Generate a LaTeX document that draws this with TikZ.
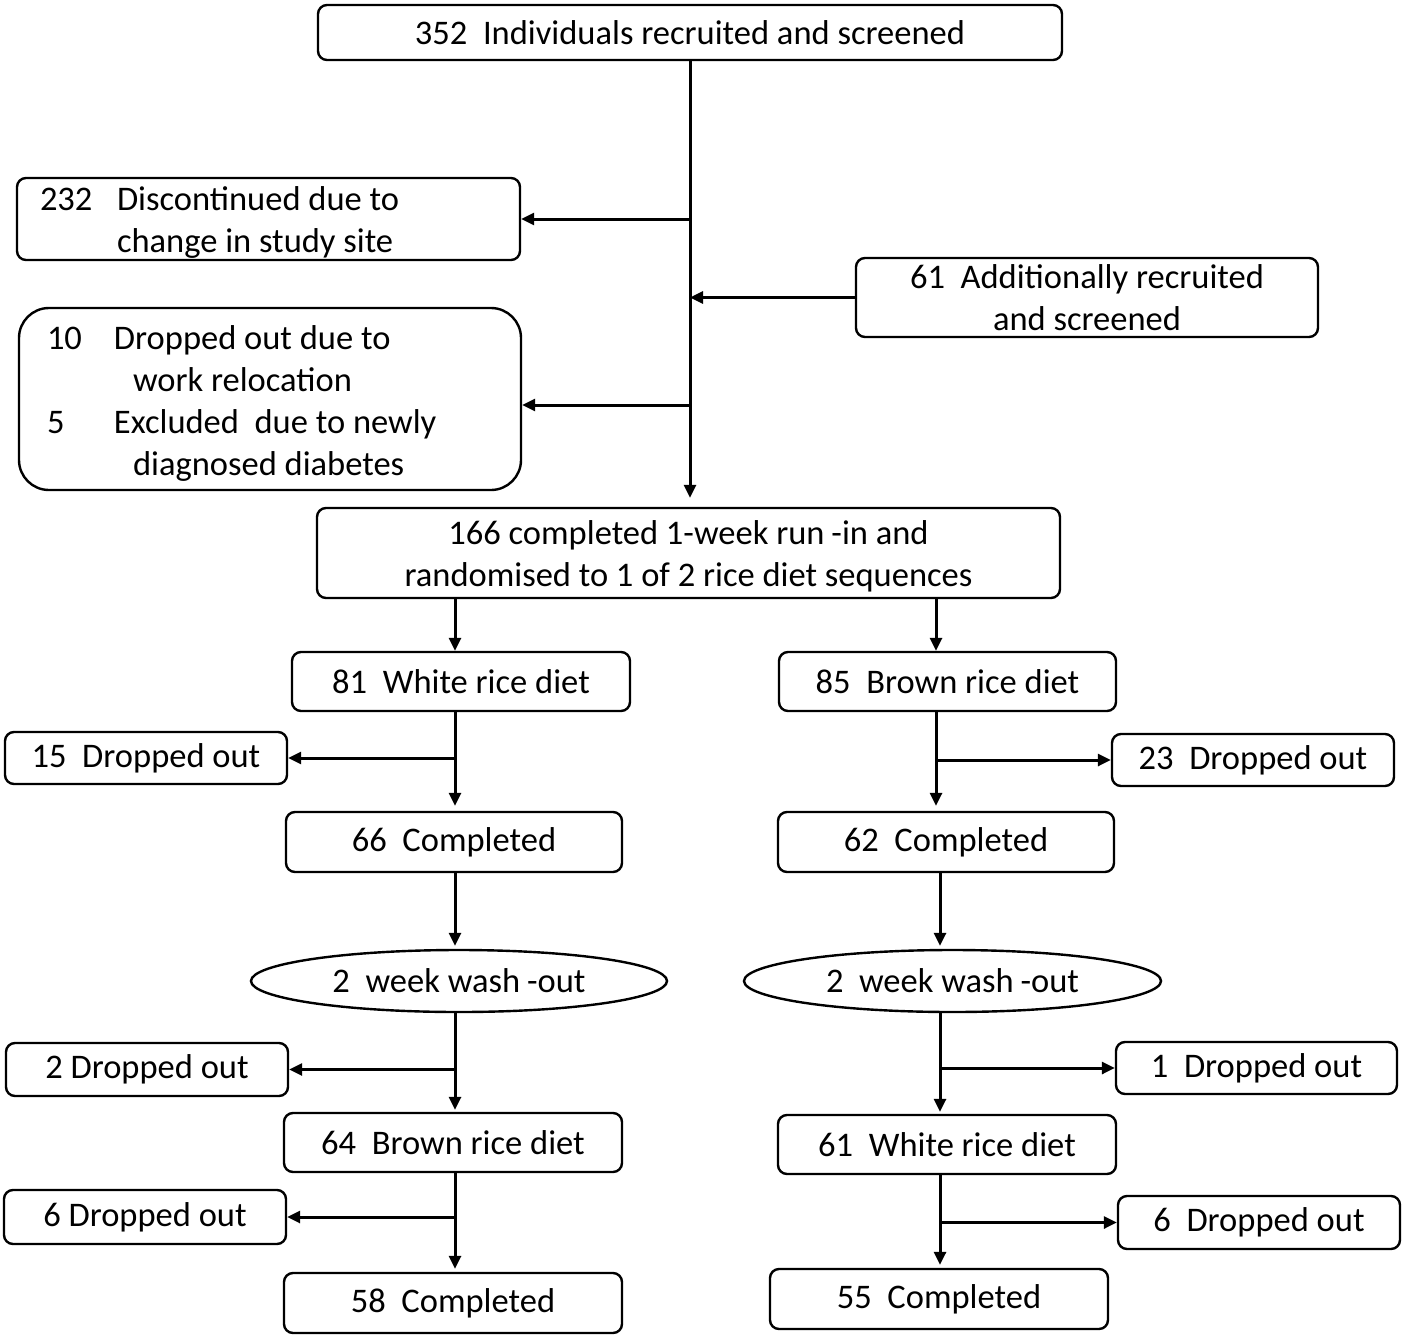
\documentclass[tikz,border=0pt]{standalone}
\usepackage{fontspec}
\setmainfont{Carlito}
\usetikzlibrary{shapes.geometric,arrows.meta,calc}
\begin{document}
\begin{tikzpicture}[x=1pt,y=-1pt,
  box/.style={draw, line width=2.4pt, rounded corners=9pt, inner sep=0pt, align=center},
  oval/.style={draw, ellipse, line width=2.4pt, inner sep=0pt},
  arr/.style={line width=3pt, -{Triangle[length=13pt,width=12pt]}},
  font=\fontsize{34.5}{42}\selectfont]
\useasboundingbox (0,0) rectangle (1405,1338);

\node[box, minimum width=744, minimum height=55] (top) at (690,32.5) {352\ \ Individuals recruited and screened};
\node[box, minimum width=503, minimum height=82, text width=457, inner xsep=23pt, align=flush left] (d232) at (268.5,219)
  {\rule{0pt}{31pt}\makebox[77pt][l]{232}Discontinued due to\\\hspace*{77pt}change in study site};
\node[box, minimum width=462, minimum height=79] (add) at (1087,297.5) {61\ \ Additionally recruited\\and screened};
\node[box, rounded corners=30pt, minimum width=502, minimum height=182, text width=446, inner xsep=28pt, align=flush left] (ex) at (270,399)
  {\rule{0pt}{32pt}\makebox[67pt][l]{10}Dropped out due to\\\hspace*{86pt}work relocation\\\makebox[67pt][l]{5}Excluded\ \ due to newly\\\hspace*{86pt}diagnosed diabetes};
\node[box, minimum width=743, minimum height=90] (r166) at (688.5,553) {\rule{0pt}{31pt}166 completed 1-week run\hspace{0.2em}-in and\\randomised to 1 of 2 rice diet sequences};

\node[box, minimum width=338, minimum height=59] (w81) at (461,681.5) {81\ \ White rice diet};
\node[box, minimum width=337, minimum height=59] (b85) at (947.5,681.5) {85\ \ Brown rice diet};
\node[box, minimum width=282, minimum height=52] (d15) at (146,758) {15\ \ Dropped out};
\node[box, minimum width=282, minimum height=52] (d23) at (1253,760) {23\ \ Dropped out};
\node[box, minimum width=336, minimum height=60] (c66) at (454,842) {66\ \ Completed};
\node[box, minimum width=336, minimum height=60] (c62) at (946,842) {62\ \ Completed};
\node[oval, minimum width=416, minimum height=62] (wL) at (459,981) {2\ \ week wash\hspace{0.2em}-out};
\node[oval, minimum width=417, minimum height=62] (wR) at (952.5,981) {2\ \ week wash\hspace{0.2em}-out};
\node[box, minimum width=282, minimum height=53] (d2) at (147,1069.5) {2 Dropped out};
\node[box, minimum width=281, minimum height=52] (d1) at (1256.5,1068) {1\ \ Dropped out};
\node[box, minimum width=338, minimum height=59] (b64) at (453,1142.5) {64\ \ Brown rice diet};
\node[box, minimum width=338, minimum height=59] (w61) at (947,1144.5) {61\ \ White rice diet};
\node[box, minimum width=282, minimum height=54] (d6L) at (145,1217) {6 Dropped out};
\node[box, minimum width=282, minimum height=53] (d6R) at (1259,1222.5) {6\ \ Dropped out};
\node[box, minimum width=338, minimum height=60] (c58) at (453,1303) {58\ \ Completed};
\node[box, minimum width=338, minimum height=60] (c55) at (939,1299) {55\ \ Completed};

% main column
\draw[arr, shorten >=9pt] (top.south) -- (top.south |- r166.north);
\draw[arr] (top.south |- d232.east) -- (d232.east);
\draw[arr] (add.west) -- (add.west -| top.south);
\coordinate (j5) at (690,405);
\draw[arr] (j5) -- (j5 -| ex.east);

% left column
\coordinate (L1) at (455,0);
\draw[arr] (r166.south -| L1) -- (w81.north -| L1);
\draw[arr, shorten >=5pt] (w81.south -| L1) -- (c66.north -| L1);
\draw[arr] (L1 |- d15.east) -- (d15.east);
\draw[arr, shorten >=3pt] (c66.south -| L1) -- (wL.north -| L1);
\draw[arr, shorten >=2pt] (wL.south -| L1) -- (b64.north -| L1);
\draw[arr] (L1 |- d2.east) -- (d2.east);
\draw[arr, shorten >=3pt] (b64.south -| L1) -- (c58.north -| L1);
\draw[arr] (L1 |- d6L.east) -- (d6L.east);

% right column
\coordinate (R1) at (936,0);
\coordinate (R2) at (940,0);
\draw[arr] (r166.south -| R1) -- (b85.north -| R1);
\draw[arr, shorten >=5pt] (b85.south -| R1) -- (c62.north -| R1);
\draw[arr] (R1 |- d23.west) -- (d23.west);
\draw[arr, shorten >=3pt] (c62.south -| R2) -- (wR.north -| R2);
\draw[arr, shorten >=2pt] (wR.south -| R2) -- (w61.north -| R2);
\draw[arr] (R2 |- d1.west) -- (d1.west);
\draw[arr, shorten >=3pt] (w61.south -| R2) -- (c55.north -| R2);
\draw[arr] (R2 |- d6R.west) -- (d6R.west);
\end{tikzpicture}
\end{document}
